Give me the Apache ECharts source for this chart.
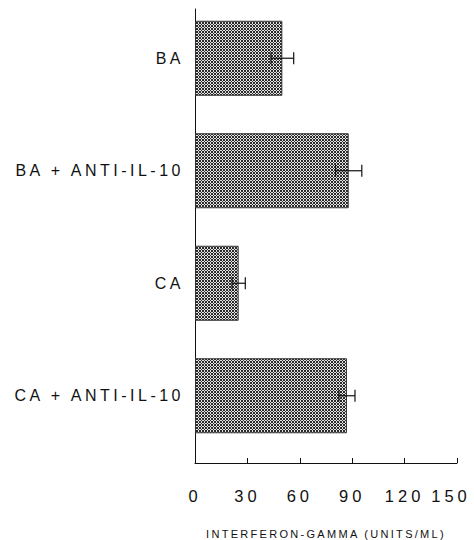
<!DOCTYPE html>
<html>
<head>
<meta charset="utf-8">
<script src="https://cdn.jsdelivr.net/npm/echarts@6/dist/echarts.min.js"></script>
<style>
  html, body { margin: 0; padding: 0; background: #fff; }
  #chart { width: 474px; height: 540px; }
  #chart svg text[style*="16px"] { letter-spacing: 3.5px; }
  #chart svg text[style*="16.5px"] { letter-spacing: 4px; }
  #chart svg text[style*="11px"] { letter-spacing: 2.3px; }
</style>
</head>
<body>
<div id="chart"></div>
<script>
var categories = ['BA', 'BA + ANTI-IL-10', 'CA', 'CA + ANTI-IL-10'];
var means = [50, 88, 25, 87];
var errors = [6.5, 7.5, 3.8, 4.6];
var xTicks = [0, 30, 60, 90, 120, 150];

// crosshatch fill made on a small canvas
function makeHatch() {
    var c = document.createElement('canvas');
    c.width = 6;
    c.height = 6;
    var ctx = c.getContext('2d');
    ctx.fillStyle = '#e4e4e4';
    ctx.fillRect(0, 0, 6, 6);
    ctx.fillStyle = '#2a2a2a';
    for (var x = 0; x < 6; x++) {
        for (var y = 0; y < 6; y++) {
            if ((x + y) % 3 === 0 || ((x - y) % 3 + 3) % 3 === 0) {
                ctx.fillRect(x, y, 1, 1);
            }
        }
    }
    return c.toDataURL();
}

var chart = echarts.init(document.getElementById('chart'), null, { renderer: 'svg' });

var errData = categories.map(function (c, i) {
    return [i, means[i] - errors[i], means[i] + errors[i]];
});

var font = 'Liberation Sans';
var xMax = xTicks[xTicks.length - 1];

chart.setOption({
    animation: false,
    grid: [
        { left: 195, right: 17, top: 2, bottom: 88, outerBoundsMode: 'none' },
        // second grid only carries the full-length left axis line
        { left: 195, right: 17, top: 9, bottom: 77, outerBoundsMode: 'none' }
    ],
    xAxis: [{
        type: 'value',
        gridIndex: 0,
        min: xTicks[0],
        max: xMax,
        interval: 30,
        offset: 11,
        name: 'INTERFERON-GAMMA (UNITS/ML)',
        nameLocation: 'middle',
        nameGap: 65,
        nameTextStyle: { fontFamily: font, fontSize: 11, color: '#111' },
        axisLine: { show: true, lineStyle: { color: '#111', width: 1 } },
        axisTick: { show: true, inside: true, length: 5, lineStyle: { color: '#111' } },
        axisLabel: {
            margin: 24,
            fontFamily: font,
            fontSize: 16.5,
            color: '#111',
            formatter: function (v) {
                return v === xMax ? '{last|' + v + '}' : String(v);
            },
            rich: {
                last: { fontFamily: font, fontSize: 16.5, color: '#111', padding: [0, 12, 0, 0] }
            }
        },
        splitLine: { show: false }
    }, {
        type: 'value',
        gridIndex: 1,
        show: false
    }],
    yAxis: [{
        type: 'category',
        gridIndex: 0,
        inverse: true,
        data: categories,
        axisLine: { show: false },
        axisTick: { show: false },
        axisLabel: { margin: 11, fontFamily: font, fontSize: 16, color: '#111' }
    }, {
        type: 'value',
        gridIndex: 1,
        axisLine: { show: true, lineStyle: { color: '#111', width: 1 } },
        axisTick: { show: false },
        axisLabel: { show: false },
        splitLine: { show: false }
    }],
    series: [
        {
            type: 'bar',
            data: means,
            barWidth: 75,
            itemStyle: {
                color: { image: makeHatch(), repeat: 'repeat' },
                borderColor: '#333',
                borderWidth: 1
            }
        },
        {
            type: 'custom',
            data: errData,
            z: 10,
            renderItem: function (params, api) {
                var y = api.value(0);
                var lo = api.coord([api.value(1), y]);
                var hi = api.coord([api.value(2), y]);
                var cap = 6;
                var style = { stroke: '#111', lineWidth: 1.2 };
                return {
                    type: 'group',
                    children: [
                        { type: 'line', shape: { x1: lo[0], y1: lo[1], x2: hi[0], y2: hi[1] }, style: style },
                        { type: 'line', shape: { x1: lo[0], y1: lo[1] - cap, x2: lo[0], y2: lo[1] + cap }, style: style },
                        { type: 'line', shape: { x1: hi[0], y1: hi[1] - cap, x2: hi[0], y2: hi[1] + cap }, style: style }
                    ]
                };
            }
        }
    ]
});
</script>
</body>
</html>
